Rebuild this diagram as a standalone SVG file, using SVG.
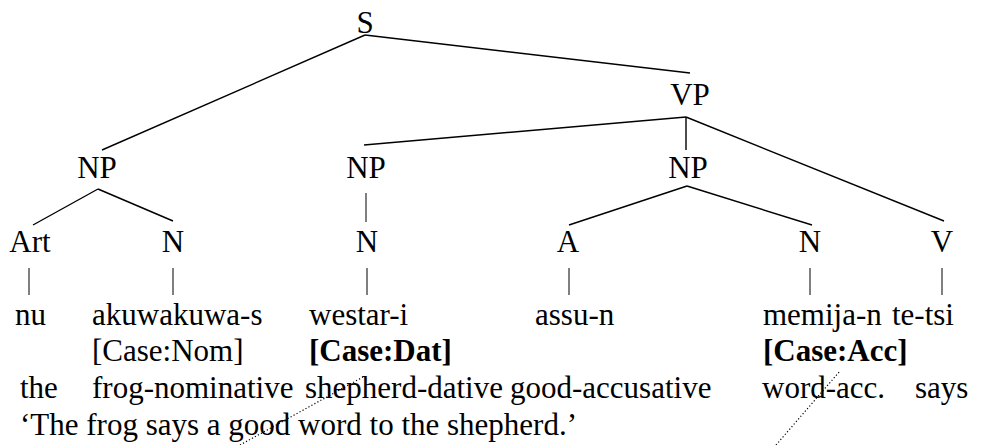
<svg xmlns="http://www.w3.org/2000/svg" width="985" height="445" viewBox="0 0 985 445">
<style>
text{font-family:"Liberation Serif","Times New Roman",serif;font-size:31px;fill:#000}
.c{text-anchor:middle}
.b{font-weight:bold}
.e{stroke:#000;stroke-width:1.4;fill:none}
.p{stroke:#000;stroke-width:1;fill:none}
.d{stroke:#000;stroke-width:1.2;stroke-dasharray:1.2 2.2;fill:none}
</style>
<rect width="985" height="445" fill="#fff"/>
<g id="connectors">
<line class="e" x1="365" y1="35" x2="102" y2="150"/>
<line class="e" x1="365" y1="35" x2="690" y2="73"/>
<line class="e" x1="686" y1="117" x2="364" y2="145"/>
<line class="e" x1="686" y1="117" x2="686" y2="150"/>
<line class="e" x1="686" y1="117" x2="944" y2="221"/>
<line class="e" x1="98" y1="189" x2="33" y2="225"/>
<line class="e" x1="98" y1="189" x2="173" y2="221"/>
<line class="p" x1="366" y1="193" x2="366" y2="222"/>
<line class="e" x1="687" y1="186" x2="569" y2="225"/>
<line class="e" x1="687" y1="186" x2="812" y2="225"/>
<line class="p" x1="29" y1="268" x2="29" y2="295"/>
<line class="p" x1="173" y1="268" x2="173" y2="295"/>
<line class="p" x1="367" y1="268" x2="367" y2="295"/>
<line class="p" x1="569" y1="268" x2="569" y2="295"/>
<line class="p" x1="810" y1="268" x2="810" y2="295"/>
<line class="p" x1="942" y1="268" x2="942" y2="295"/>
<line class="d" x1="240" y1="445" x2="363" y2="377"/>
<line class="d" x1="776" y1="445" x2="840" y2="371"/>
</g>
<g id="S"><text class="c" x="365" y="33">S</text></g>
<g id="VP"><text class="c" x="690" y="105">VP</text></g>
<g id="NP1"><text class="c" x="97" y="178">NP</text></g>
<g id="NP2"><text class="c" x="366" y="178">NP</text></g>
<g id="NP3"><text class="c" x="688" y="178">NP</text></g>
<g id="Art"><text class="c" x="30" y="252">Art</text></g>
<g id="N1"><text class="c" x="173" y="252">N</text></g>
<g id="N2"><text class="c" x="367" y="252">N</text></g>
<g id="A"><text class="c" x="568" y="252">A</text></g>
<g id="N3"><text class="c" x="810" y="252">N</text></g>
<g id="V"><text class="c" x="942" y="252">V</text></g>
<g id="w-nu"><text x="15" y="325">nu</text><text x="20" y="398">the</text></g>
<g id="w-akuwakuwa"><text x="92" y="325">akuwakuwa-s</text><text x="92" y="361">[Case:Nom]</text><text x="92" y="398">frog-nominative</text></g>
<g id="w-westar"><text x="309" y="325">westar-i</text><text class="b" x="309" y="361">[Case:Dat]</text><text x="305" y="398">shepherd-dative</text></g>
<g id="w-assu"><text x="535" y="325">assu-n</text><text x="510" y="398">good-accusative</text></g>
<g id="w-memija"><text x="763" y="325">memija-n</text><text class="b" x="763" y="361">[Case:Acc]</text><text x="762" y="398">word-acc.</text></g>
<g id="w-tetsi"><text x="892" y="325">te-tsi</text><text x="915" y="398">says</text></g>
<g id="translation"><text x="20" y="435">‘The frog says a good word to the shepherd.’</text></g>
</svg>
